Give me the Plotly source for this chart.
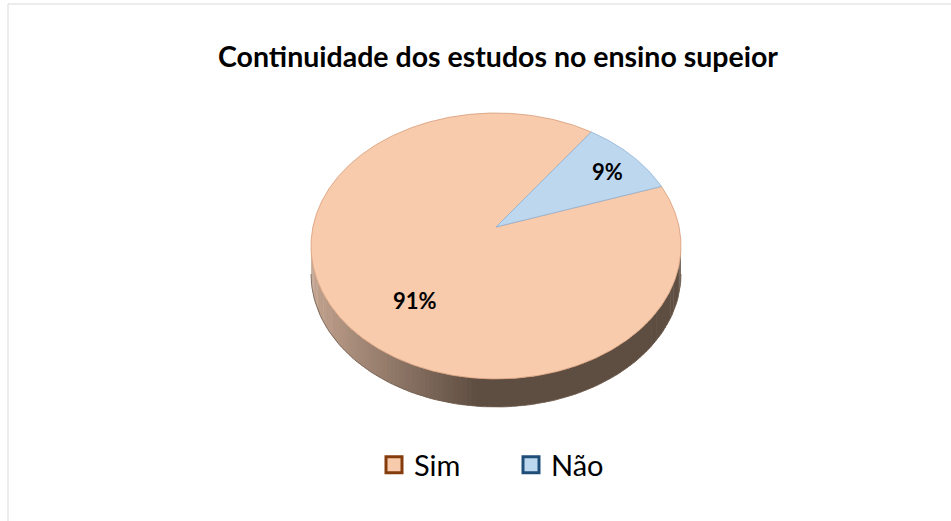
import numpy as np
import plotly.graph_objects as go

# ---- data ----
labels = ["Sim", "Não"]
values = [91, 9]
title_text = "Continuidade dos estudos no ensino supeior"

# ---- styles ----
top_colors = ["#F8CBAD", "#BDD7EE"]
edge_colors = ["#D59A76", "#8FB3D6"]
legend_line = ["#843C0C", "#1F4E79"]
FONT = "Lato"

# ---- geometry (pixel space) ----
W, H = 951, 521
CX, CY = 496, 246          # ellipse centre
RX, RY = 185, 133          # semi axes
VDY = -19                  # vertex offset (perspective)
DEPTH = 28
START = 26.6               # parametric start angle of first slice, clockwise
LABEL_R = [0.6, 0.82]

total = sum(values)
spans = [v / total * 360 for v in values]


def ell(t_deg, dy=0.0):
    t = np.radians(t_deg)
    return CX + RX * np.cos(t), CY - RY * np.sin(t) + dy


fig = go.Figure()


def owner(t):
    a = (START - t) % 360
    acc = 0
    for i, s in enumerate(spans):
        acc += s
        if a < acc:
            return i
    return len(spans) - 1


light = np.array([194, 162, 142])
dark = np.array([94, 78, 66])
N = 120
ts = np.linspace(180, 360, N + 1)
for k in range(N):
    t0, t1 = ts[k], ts[k + 1] + 0.4
    xm, _ = ell((t0 + t1) / 2)
    f = (xm - (CX - RX)) / (2 * RX)
    w = np.clip(1 - f / 0.45, 0, 1)
    c = dark + (light - dark) * w
    if owner((t0 + t1) / 2) == 1:
        c = c * 0.9 + np.array([40, 60, 90]) * 0.1
    tt = np.linspace(t0, t1, 4)
    xt, yt = ell(tt)
    xb, yb = ell(tt[::-1], DEPTH)
    fig.add_trace(go.Scatter(
        x=np.concatenate([xt, xb]), y=np.concatenate([yt, yb]),
        mode="lines", fill="toself", line=dict(width=0),
        fillcolor="rgb(%d,%d,%d)" % tuple(c.astype(int)),
        showlegend=False, hoverinfo="skip"))

tt = np.linspace(180, 360, 120)
xb, yb = ell(tt, DEPTH)
fig.add_trace(go.Scatter(x=xb, y=yb, mode="lines",
                         line=dict(color="#6E5A4C", width=0.8),
                         showlegend=False, hoverinfo="skip"))

a = START
vx, vy = CX, CY + VDY
for i, s in enumerate(spans):
    tt = np.linspace(a, a - s, max(int(s * 2), 8))
    x, y = ell(tt)
    pct = round(values[i] / total * 100)
    fig.add_trace(go.Scatter(
        x=np.concatenate([[vx], x, [vx]]), y=np.concatenate([[vy], y, [vy]]),
        mode="lines", fill="toself", fillcolor=top_colors[i],
        line=dict(color=edge_colors[i], width=0.8),
        name=labels[i], showlegend=False, hoverinfo="text",
        text="%s: %d%%" % (labels[i], pct)))
    mid = a - s / 2
    lx = vx + RX * LABEL_R[i] * np.cos(np.radians(mid))
    ly = CY - RY * LABEL_R[i] * np.sin(np.radians(mid))
    fig.add_annotation(x=lx, y=ly, text="<b>%d%%</b>" % pct,
                       showarrow=False, font=dict(family=FONT, size=22, color="black"))
    a -= s

for i, lab in enumerate(labels):
    fig.add_trace(go.Scatter(
        x=[None], y=[None], mode="markers", name=lab,
        marker=dict(symbol="square", size=16, color=top_colors[i],
                    line=dict(color=legend_line[i], width=3))))

fig.update_layout(
    width=W, height=H, margin=dict(l=0, r=0, t=0, b=0),
    paper_bgcolor="white", plot_bgcolor="white",
    xaxis=dict(range=[0, W], visible=False, fixedrange=True),
    yaxis=dict(range=[H, 0], visible=False, fixedrange=True),
    title=dict(text="<b>%s</b>" % title_text, x=498 / W, xanchor="center",
               y=1 - 57 / H, yanchor="middle",
               font=dict(family=FONT, size=28.5, color="black")),
    legend=dict(orientation="h", x=511 / W, xanchor="center",
                y=1 - 465 / H, yanchor="middle",
                font=dict(family=FONT, size=29, color="black"),
                itemwidth=30, entrywidth=92, entrywidthmode="pixels",
                bgcolor="rgba(0,0,0,0)"),
    showlegend=True,
    shapes=[
        dict(type="line", xref="paper", yref="paper", x0=8 / W, x1=1, y0=1 - 4 / H, y1=1 - 4 / H,
             line=dict(color="#D9D9D9", width=1)),
        dict(type="line", xref="paper", yref="paper", x0=8 / W, x1=8 / W, y0=0, y1=1 - 4 / H,
             line=dict(color="#D9D9D9", width=1)),
    ],
)

fig.write_html("out.html", config={"displayModeBar": False},
               post_script="document.body.style.margin='0';")
